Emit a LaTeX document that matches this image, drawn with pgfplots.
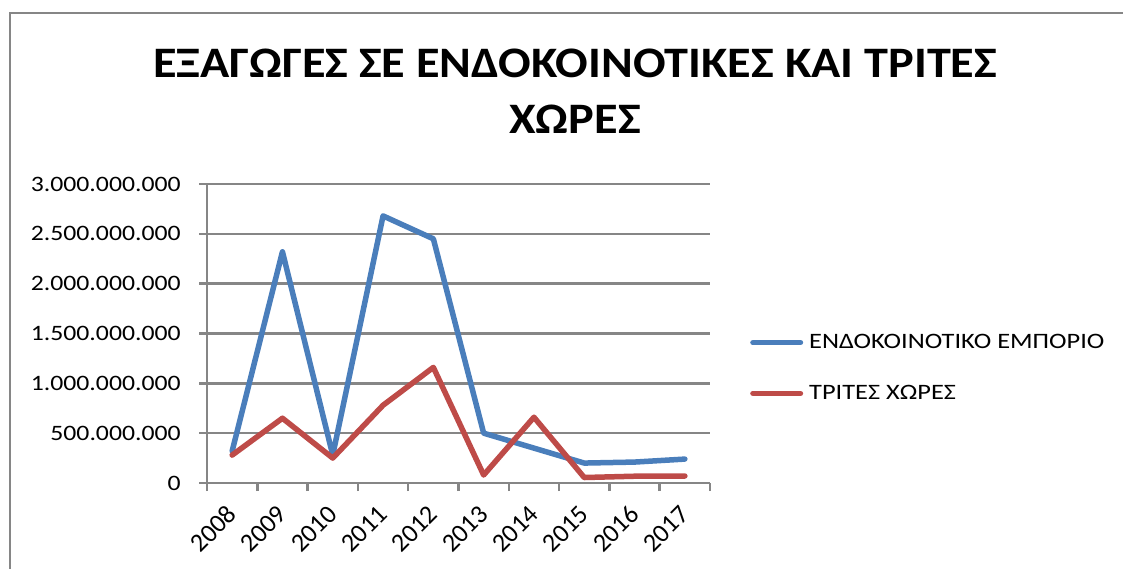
\documentclass[border=0pt]{standalone}
\usepackage{pgfplots}
\pgfplotsset{compat=1.18}
\usepackage{fontspec}
\setmainfont{Carlito}
\definecolor{exblue}{HTML}{4A7EBB}
\definecolor{exred}{HTML}{BE4B48}
\definecolor{exgrid}{HTML}{868686}
\begin{document}
\begin{tikzpicture}
\useasboundingbox (0pt,0pt) rectangle (1123pt,-569pt);
\draw[exgrid, line width=2.5pt] (10pt,-569pt) -- (10pt,-13pt) -- (1123pt,-13pt);
\node[font=\fontsize{43.5}{56}\selectfont\bfseries, anchor=base, xscale=1.11, inner sep=0pt] at (575pt,-78pt)
  {ΕΞΑΓΩΓΕΣ ΣΕ ΕΝΔΟΚΟΙΝΟΤΙΚΕΣ ΚΑΙ ΤΡΙΤΕΣ};
\node[font=\fontsize{43.5}{56}\selectfont\bfseries, anchor=base, xscale=1.11, inner sep=0pt] at (575pt,-134pt)
  {ΧΩΡΕΣ};
\begin{axis}[
  at={(207pt,-483pt)}, anchor=south west,
  scale only axis, width=503pt, height=299pt,
  xmin=-0.5, xmax=9.5, ymin=0, ymax=3000000000,
  scaled y ticks=false,
  axis lines*=left,
  axis line style={exgrid, line width=2.5pt},
  every tick/.style={exgrid, line width=2.5pt},
  tick align=outside,
  major tick length=8pt,
  xtick={-0.5,0.5,...,9.5},
  xticklabels={},
  extra x ticks={0,1,2,3,4,5,6,7,8,9},
  extra x tick labels={2008,2009,2010,2011,2012,2013,2014,2015,2016,2017},
  extra x tick style={major tick length=0pt, xticklabel style={yshift=-27pt, rotate=45, anchor=east, font=\fontsize{26}{30}\selectfont, inner sep=0pt}},
  ytick={0,500000000,1000000000,1500000000,2000000000,2500000000,3000000000},
  yticklabels={0,500.000.000,1.000.000.000,1.500.000.000,2.000.000.000,2.500.000.000,3.000.000.000},
  yticklabel style={font=\fontsize{22}{26}\selectfont, inner sep=0pt, anchor=east, xshift=-18pt, xscale=1.17},
  ymajorgrids,
  grid style={exgrid, line width=2.5pt},
  /pgf/number format/assume math mode=true,
  legend style={at={(axis cs:10.295,1510000000)}, anchor=north west, draw=none, fill=none,
    font=\fontsize{22}{26}\selectfont, row sep=31pt, inner sep=0pt, column sep=4pt},
  legend cell align=left,
  legend image code/.code={\draw[#1, line cap=round] (2.75pt,0pt) -- (50.25pt,0pt);},
  clip=false,
]
\addplot[exblue, line width=5.5pt, line join=round, line cap=round] coordinates {
 (0,320000000) (1,2320000000) (2,280000000) (3,2680000000) (4,2450000000)
 (5,500000000) (6,350000000) (7,200000000) (8,210000000) (9,240000000)};
\addlegendentry{\scalebox{1.2}[1]{ΕΝΔΟΚΟΙΝΟΤΙΚΟ ΕΜΠΟΡΙΟ}}
\addplot[exred, line width=5.5pt, line join=round, line cap=round] coordinates {
 (0,280000000) (1,650000000) (2,250000000) (3,780000000) (4,1160000000)
 (5,80000000) (6,660000000) (7,55000000) (8,68000000) (9,70000000)};
\addlegendentry{\scalebox{1.2}[1]{ΤΡΙΤΕΣ ΧΩΡΕΣ}}
\end{axis}
\end{tikzpicture}
\end{document}
